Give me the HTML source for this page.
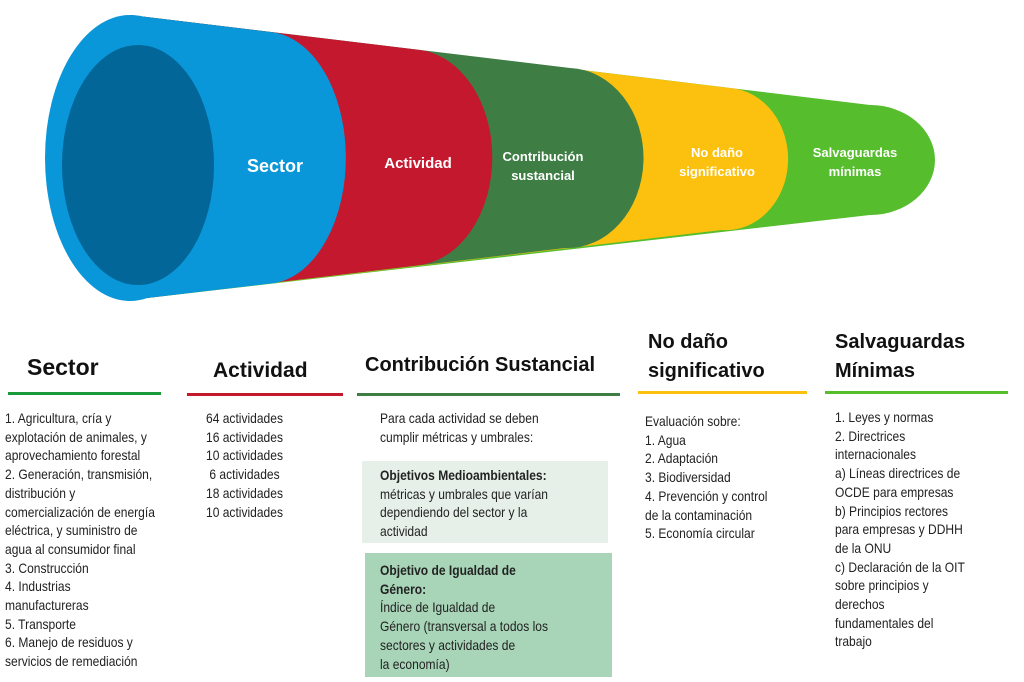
<!DOCTYPE html>
<html><head><meta charset="utf-8"><style>
body{margin:0;width:1024px;height:682px;background:#fff;position:relative;overflow:hidden;font-family:"Liberation Sans",sans-serif;color:#222}
.a{position:absolute;white-space:nowrap}
.h{font-weight:bold;color:#111}
.l{font-size:14px;line-height:18.7px;transform:scaleX(0.86);transform-origin:0 0}
.u{position:absolute;height:3px}
</style></head><body>
<svg width="1024" height="320" style="position:absolute;left:0;top:0">
<path d="M130 15 L870 105 A65 55 0 0 1 870 215 L130 300 Z" fill="#56bd2d"/>
<path d="M130 15 L730 88 A62 71 0 0 1 722 230 L130 300 Z" fill="#fbc10e"/>
<path d="M130 15 L570 68 A76 90 0 0 1 565 248 L130 300 Z" fill="#3e7e45"/>
<path d="M130 15 L420 50 A80 108 0 0 1 420 265 L130 300 Z" fill="#c4182f"/>
<path d="M130 15 L270 32 A80 126 0 0 1 275 283 L130 300 Z" fill="#0a97d9"/>
<ellipse cx="130" cy="158" rx="85" ry="143" fill="#0a97d9"/>
<ellipse cx="138" cy="165" rx="76" ry="120" fill="#026699"/>
<g fill="#fff" font-weight="bold" font-family="Liberation Sans,sans-serif" text-anchor="middle">
<text x="275" y="172" font-size="18">Sector</text>
<text x="418" y="168" font-size="15">Actividad</text>
<text x="543" y="161" font-size="13">Contribución</text>
<text x="543" y="180" font-size="13">sustancial</text>
<text x="717" y="157" font-size="13">No daño</text>
<text x="717" y="176" font-size="13">significativo</text>
<text x="855" y="157" font-size="13">Salvaguardas</text>
<text x="855" y="176" font-size="13">mínimas</text>
</g>
</svg>
<div class="a h" style="left:27px;top:354px;font-size:23px">Sector</div>
<div class="u" style="left:8px;top:392px;width:153px;background:#1a9a3a"></div>
<div class="a h" style="left:213px;top:359px;font-size:21px">Actividad</div>
<div class="u" style="left:187px;top:393px;width:156px;background:#c4182f"></div>
<div class="a h" style="left:365px;top:354px;font-size:20px">Contribución Sustancial</div>
<div class="u" style="left:357px;top:393px;width:263px;background:#3e7e45"></div>
<div class="a h" style="left:648px;top:328px;font-size:20px;line-height:29px">No daño<br>significativo</div>
<div class="u" style="left:638px;top:391px;width:169px;background:#fbc10e"></div>
<div class="a h" style="left:835px;top:328px;font-size:20px;line-height:29px">Salvaguardas<br>Mínimas</div>
<div class="u" style="left:825px;top:391px;width:183px;background:#56bd2d"></div>

<div class="a l" style="left:5px;top:409px">1. Agricultura, cría y<br>explotación de animales, y<br>aprovechamiento forestal<br>2. Generación, transmisión,<br>distribución y<br>comercialización de energía<br>eléctrica, y suministro de<br>agua al consumidor final<br>3. Construcción<br>4. Industrias<br>manufactureras<br>5. Transporte<br>6. Manejo de residuos y<br>servicios de remediación</div>
<div class="a l" style="left:206px;top:409px">64 actividades<br>16 actividades<br>10 actividades<br>&nbsp;6 actividades<br>18 actividades<br>10 actividades</div>
<div class="a l" style="left:380px;top:409px">Para cada actividad se deben<br>cumplir métricas y umbrales:</div>
<div class="a" style="left:362px;top:461px;width:246px;height:82px;background:#e6f0e8"></div>
<div class="a l" style="left:380px;top:466px"><b>Objetivos Medioambientales:</b><br>métricas y umbrales que varían<br>dependiendo del sector y la<br>actividad</div>
<div class="a" style="left:365px;top:553px;width:247px;height:124px;background:#a8d5b8"></div>
<div class="a l" style="left:380px;top:561px"><b>Objetivo de Igualdad de<br>Género:</b><br>Índice de Igualdad de<br>Género (transversal a todos los<br>sectores y actividades de<br>la economía)</div>
<div class="a l" style="left:645px;top:412px">Evaluación sobre:<br>1. Agua<br>2. Adaptación<br>3. Biodiversidad<br>4. Prevención y control<br>de la contaminación<br>5. Economía circular</div>
<div class="a l" style="left:835px;top:408px">1. Leyes y normas<br>2. Directrices<br>internacionales<br>a) Líneas directrices de<br>OCDE para empresas<br>b) Principios rectores<br>para empresas y DDHH<br>de la ONU<br>c) Declaración de la OIT<br>sobre principios y<br>derechos<br>fundamentales del<br>trabajo</div>
</body></html>
